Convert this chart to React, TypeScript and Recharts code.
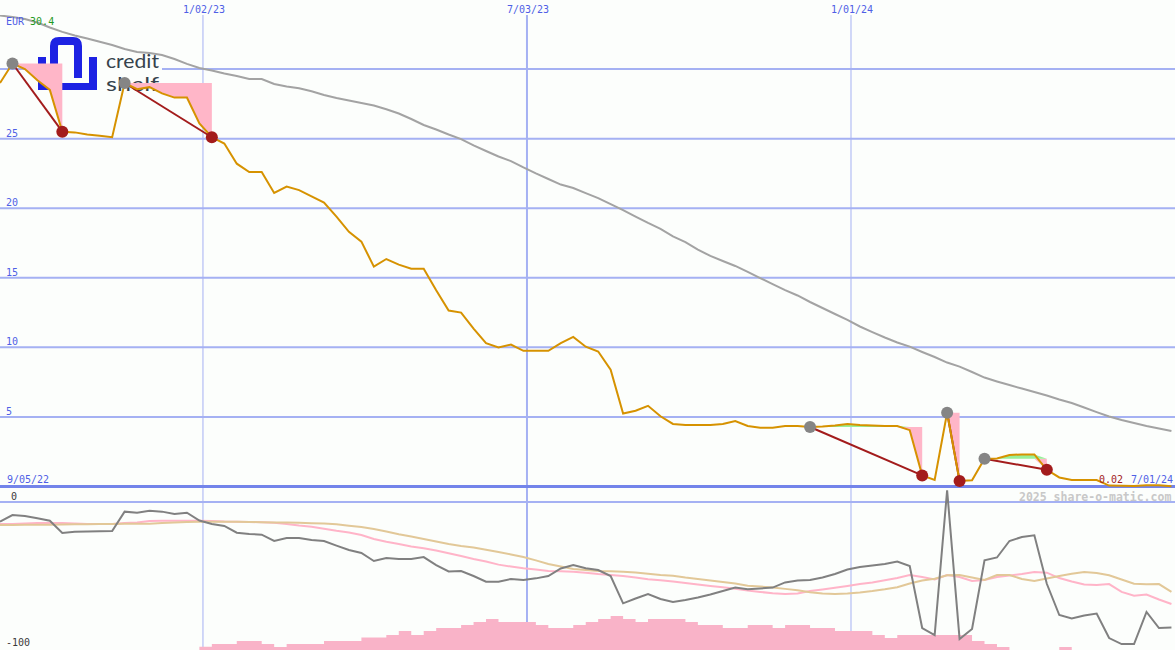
import React from 'react';
import { ComposedChart, Line, Area, XAxis, YAxis, ReferenceLine } from 'recharts';

// ---------- data ----------
const weekDates = [
  '2022-09-10','2022-09-17','2022-09-24','2022-10-01','2022-10-08','2022-10-15','2022-10-22','2022-10-29','2022-11-05','2022-11-12',
  '2022-11-19','2022-11-26','2022-12-03','2022-12-10','2022-12-17','2022-12-24','2022-12-31','2023-01-07','2023-01-14','2023-01-21',
  '2023-01-28','2023-02-04','2023-02-11','2023-02-18','2023-02-25','2023-03-04','2023-03-11','2023-03-18','2023-03-25','2023-04-01',
  '2023-04-08','2023-04-15','2023-04-22','2023-04-29','2023-05-06','2023-05-13','2023-05-20','2023-05-27','2023-06-03','2023-06-10',
  '2023-06-17','2023-06-24','2023-07-01','2023-07-08','2023-07-15','2023-07-22','2023-07-29','2023-08-05','2023-08-12','2023-08-19',
  '2023-08-26','2023-09-02','2023-09-09','2023-09-16','2023-09-23','2023-09-30','2023-10-07','2023-10-14','2023-10-21','2023-10-28',
  '2023-11-04','2023-11-11','2023-11-18','2023-11-25','2023-12-02','2023-12-09','2023-12-16','2023-12-23','2023-12-30','2024-01-06',
  '2024-01-13','2024-01-20','2024-01-27','2024-02-03','2024-02-10','2024-02-17','2024-02-24','2024-03-02','2024-03-09','2024-03-16',
  '2024-03-23','2024-03-30','2024-04-06','2024-04-13','2024-04-20','2024-04-27','2024-05-04','2024-05-11','2024-05-18','2024-05-25',
  '2024-06-01','2024-06-08','2024-06-15','2024-06-22','2024-06-29',
];

const price = [
  29.0, 30.4, 30.0, 29.2, 28.5, 25.5, 25.45, 25.3, 25.2, 25.1,
  29.0, 28.55, 28.7, 28.25, 27.95, 27.95, 26.1, 25.1, 24.65, 23.2,
  22.6, 22.6, 21.1, 21.55, 21.3, 20.85, 20.4, 19.4, 18.3, 17.6,
  15.8, 16.35, 15.95, 15.65, 15.65, 14.1, 12.65, 12.5, 11.35, 10.3,
  10.0, 10.2, 9.75, 9.75, 9.75, 10.3, 10.75, 10.05, 9.7, 8.4,
  5.25, 5.45, 5.8, 5.05, 4.5, 4.42, 4.42, 4.42, 4.49, 4.7,
  4.35, 4.23, 4.23, 4.35, 4.35, 4.28, 4.31, 4.38, 4.5, 4.42,
  4.38, 4.35, 4.35, 4.05, 0.8, 0.47, 5.3, 0.4, 0.45, 2.0,
  2.02, 2.26, 2.31, 2.31, 1.2, 0.65, 0.47, 0.47, 0.47, 0.07,
  0.06, 0.04, 0.1, 0.1, 0.02,
];

const trend = [
  33.85, 33.74, 33.6, 33.35, 32.99, 32.67, 32.41, 32.2, 31.97, 31.73,
  31.44, 31.23, 31.16, 31.01, 30.72, 30.37, 30.08, 29.9, 29.68, 29.5,
  29.29, 29.29, 28.93, 28.75, 28.62, 28.4, 28.14, 27.92, 27.74, 27.56,
  27.38, 27.11, 26.81, 26.41, 25.98, 25.66, 25.3, 24.97, 24.51, 24.11,
  23.72, 23.39, 22.93, 22.5, 22.1, 21.7, 21.45, 21.09, 20.73, 20.3,
  19.87, 19.4, 18.94, 18.51, 17.97, 17.57, 17.03, 16.57, 16.21, 15.85,
  15.42, 14.98, 14.55, 14.12, 13.73, 13.26, 12.83, 12.4, 11.97, 11.5,
  11.1, 10.71, 10.35, 10.05, 9.67, 9.31, 8.91, 8.62, 8.23, 7.83,
  7.55, 7.29, 7.04, 6.79, 6.54, 6.25, 6.0, 5.68, 5.35, 5.03,
  4.78, 4.56, 4.35, 4.17, 3.99,
];

const oscGray = [
  -13.5, -8.9, -9.6, -11.2, -12.8, -21.2, -20.3, -20.2, -20.1, -19.9,
  -6.6, -7.3, -6.0, -6.6, -8.2, -7.3, -12.7, -15.1, -16.4, -21.0,
  -21.9, -22.4, -26.7, -24.7, -24.7, -26.0, -26.7, -29.9, -32.9, -34.9,
  -40.4, -38.4, -39.0, -39.0, -37.7, -43.2, -47.6, -47.3, -50.7, -54.6,
  -54.6, -52.7, -53.4, -52.3, -50.7, -45.5, -43.2, -45.4, -46.6, -50.7,
  -69.4, -66.1, -63.0, -66.4, -68.5, -67.1, -65.4, -63.4, -61.0, -58.6,
  -59.8, -59.2, -58.6, -55.1, -53.8, -53.4, -51.7, -49.3, -46.2, -44.5,
  -43.5, -42.5, -40.8, -43.8, -86.3, -91.1, 8.0, -93.8, -87.0, -40.0,
  -38.0, -26.7, -24.0, -22.8, -56.0, -77.4, -79.7, -77.7, -76.4, -93.2,
  -97.3, -97.3, -75.3, -86.3, -86.0,
];

const oscPink = [
  -15.1, -15.1, -14.7, -14.4, -14.4, -14.4, -14.7, -15.1, -15.1, -15.1,
  -14.4, -14.0, -13.0, -12.8, -12.8, -12.8, -12.8, -13.0, -13.4, -13.5,
  -13.7, -13.9, -14.2, -15.1, -16.1, -16.9, -18.3, -19.7, -20.9, -22.6,
  -25.3, -27.2, -28.8, -30.5, -31.7, -33.2, -35.1, -37.0, -39.0, -40.8,
  -42.9, -44.2, -45.4, -46.2, -47.3, -47.5, -47.7, -48.4, -49.3, -50.0,
  -50.7, -51.7, -52.9, -53.6, -54.5, -55.5, -56.5, -57.5, -58.4, -59.4,
  -60.6, -61.6, -62.5, -63.0, -62.7, -61.0, -59.9, -58.7, -57.5, -56.2,
  -55.1, -53.6, -52.1, -50.0, -51.4, -53.1, -50.0, -51.4, -54.1, -53.4,
  -51.4, -50.3, -49.3, -47.9, -48.4, -52.1, -54.5, -56.5, -56.8, -56.2,
  -61.6, -64.2, -63.4, -66.8, -69.9,
];

const oscTan = [
  -15.8, -15.7, -15.6, -15.5, -15.5, -15.4, -15.3, -15.2, -15.1, -15.0,
  -14.9, -14.9, -14.9, -14.4, -14.0, -13.7, -13.5, -13.5, -13.5, -13.5,
  -13.7, -13.8, -14.0, -14.0, -14.2, -14.5, -14.8, -15.2, -16.2, -17.1,
  -18.5, -20.2, -22.1, -23.6, -25.3, -27.1, -28.8, -30.1, -31.2, -32.7,
  -34.2, -35.9, -37.7, -40.0, -42.5, -44.2, -45.9, -46.6, -47.3, -47.5,
  -47.7, -48.3, -49.2, -50.0, -50.5, -51.7, -52.7, -53.8, -54.8, -55.8,
  -57.3, -57.9, -58.6, -59.5, -60.5, -61.8, -62.7, -63.0, -62.7, -62.0,
  -61.0, -59.8, -58.4, -55.8, -53.8, -52.5, -50.2, -50.0, -51.7, -53.4,
  -50.0, -50.0, -52.7, -54.1, -52.4, -50.7, -49.1, -47.9, -48.6, -50.2,
  -53.1, -56.0, -56.4, -56.2, -61.6,
];

const volume = [
  0, 0, 0, 0, 0, 0, 0, 0, 0, 0,
  0, 0, 0, 0, 0, 0, 1.1, 2, 2, 3,
  3, 2, 1, 2, 2, 2, 3, 3, 3, 4.2,
  4.2, 5, 6.3, 5, 6.3, 7.3, 7.3, 8.3, 9.3, 10.3,
  9.3, 9.3, 9.3, 8.3, 7.3, 7.3, 8.3, 9.3, 10.3, 11.3,
  10.3, 9.3, 10.3, 10.3, 10.3, 9.3, 8.3, 8.3, 7.3, 7.3,
  8.3, 8.3, 7.3, 8.3, 8.3, 7.3, 7.3, 6.3, 6.3, 6.3,
  5, 4, 5, 5, 5, 5, 5, 5, 3, 2,
  1, 0, 0, 0, 0, 1, 0, 0, 0, 0,
  0, 0, 0, 0, 0,
];

// signal pairs: entry week index (grey dot) -> exit week index (red dot)
const entryWeeks = [1, 10, 65, 76, 79];
const exitWeeks = [5, 17, 74, 77, 84];

const tickDates = ['2023-01-02', '2023-07-03', '2024-01-01'];
const tickLabels = ['1/02/23', '7/03/23', '1/01/24'];
const tickWidths = [1, 2, 1];
const axisStartDate = '2022-09-10';
const axisEndDate = '2024-07-01';
const startLabel = '9/05/22';
const endLabel = '7/01/24';
const currency = 'EUR';
const maxLabel = '30.4';
const priceTicks = [5, 10, 15, 20, 25, 30];
const priceLabelTicks = [5, 10, 15, 20, 25];
const oscTicks = [0, -100];
const copyright = '2025 share-o-matic.com';

// ---------- layout / style ----------
const W = 1175;
const UPPER_H = 490;
const LOWER_H = 160;
const TOP_AXIS_H = 15;
const PRICE_DOMAIN = [-0.25, 33.886];
const OSC_DOMAIN = [-101.37, 8.22];
const VOL_DOMAIN = [0, 53.33];
const X_DOMAIN = [Date.parse(axisStartDate), Date.parse(axisEndDate)];
const tickTs = tickDates.map((d) => Date.parse(d));

const BG = '#fcfefc';
const GRID = '#a5b1f3';
const AXIS_DARK = '#7384ea';
const BLUE = '#4f5fe6';
const GREEN_TXT = '#1f9a1f';
const PRICE_C = '#d69200';
const TREND_C = '#a3a3a3';
const ENTRY_C = '#858585';
const EXIT_C = '#a31c1c';
const PINK_FILL = '#ffb6c8';
const GREEN_FILL = '#98f098';
const OSC_GRAY = '#808080';
const OSC_PINK = '#ffb4c8';
const OSC_TAN = '#e2c898';
const VOL_C = '#f9b3c8';
const MONO = '"DejaVu Sans Mono", monospace';

// ---------- derived rows ----------
const rows = weekDates.map((d, i) => {
  const row: any = {
    t: Date.parse(d),
    price: price[i],
    trend: trend[i],
    oscGray: oscGray[i],
    oscPink: oscPink[i],
    oscTan: oscTan[i],
    volume: volume[i],
    entry: entryWeeks.includes(i) ? price[i] : null,
    exit: exitWeeks.includes(i) ? price[i] : null,
    pinkBand: null,
    greenBand: null,
  };
  entryWeeks.forEach((s, j) => {
    const e = exitWeeks[j];
    row['sig' + j] = i === s || i === e ? price[i] : null;
    if (i >= s && i <= e) {
      const level = price[s];
      row.pinkBand = [Math.min(price[i], level), level];
      row.greenBand = [level, Math.max(price[i], level)];
    }
  });
  return row;
});

const margin0 = { top: 0, right: 0, bottom: 0, left: 0 };

const XTick = (props: any) => {
  const idx = tickTs.indexOf(props.payload.value);
  return (
    <text x={props.x + 1} y={13} textAnchor="middle" fill={BLUE} fontSize={10} fontFamily={MONO}>
      {idx >= 0 ? tickLabels[idx] : ''}
    </text>
  );
};

// a reference line whose label sits just above it at the left edge
const hLabel = (text: string, color: string, x: number) => (props: any) => {
  const vb = props.viewBox || {};
  return (
    <text x={x} y={(vb.y || 0) - 2} fill={color} fontSize={10} fontFamily={MONO}>
      {text}
    </text>
  );
};

function UpperGrid() {
  return (
    <ComposedChart width={W} height={UPPER_H} data={rows} margin={margin0}>
      <XAxis dataKey="t" type="number" domain={X_DOMAIN} allowDataOverflow orientation="top" height={TOP_AXIS_H}
        ticks={tickTs} interval={0} tickLine={false} axisLine={false} tick={XTick} />
      <YAxis type="number" domain={PRICE_DOMAIN} allowDataOverflow hide />
      {priceTicks.map((v) => (
        <ReferenceLine key={'h' + v} y={v} stroke={GRID} strokeWidth={2}
          label={priceLabelTicks.includes(v) ? hLabel(String(v), BLUE, 6) : undefined} />
      ))}
      {tickTs.map((t, i) => (
        <ReferenceLine key={t} x={t} stroke={GRID} strokeWidth={tickWidths[i]} />
      ))}
      <ReferenceLine y={0} stroke={AXIS_DARK} strokeWidth={3} />
    </ComposedChart>
  );
}

function LowerGrid() {
  return (
    <ComposedChart width={W} height={LOWER_H} data={rows} margin={margin0}>
      <XAxis dataKey="t" type="number" domain={X_DOMAIN} allowDataOverflow hide />
      <YAxis type="number" domain={OSC_DOMAIN} allowDataOverflow hide />
      {tickTs.map((t, i) => (
        <ReferenceLine key={t} x={t} stroke={GRID} strokeWidth={tickWidths[i]} />
      ))}
      <ReferenceLine y={oscTicks[0]} stroke={GRID} strokeWidth={2}
        label={hLabel(String(oscTicks[0]), '#3a3a3a', 11)} />
      <ReferenceLine y={oscTicks[1]} stroke="none" ifOverflow="visible"
        label={hLabel(String(oscTicks[1]), '#3a3a3a', 6)} />
    </ComposedChart>
  );
}

function UpperSeries() {
  return (
    <ComposedChart width={W} height={UPPER_H} data={rows} margin={margin0}>
      <XAxis dataKey="t" type="number" domain={X_DOMAIN} allowDataOverflow orientation="top" height={TOP_AXIS_H}
        tick={false} tickLine={false} axisLine={false} />
      <YAxis type="number" domain={PRICE_DOMAIN} allowDataOverflow hide />
      <Area dataKey="pinkBand" type="linear" stroke="none" fill={PINK_FILL} fillOpacity={1}
        isAnimationActive={false} dot={false} activeDot={false} />
      <Area dataKey="greenBand" type="linear" stroke="none" fill={GREEN_FILL} fillOpacity={1}
        isAnimationActive={false} dot={false} activeDot={false} />
      <Line dataKey="trend" type="linear" stroke={TREND_C} strokeWidth={2} dot={false} activeDot={false}
        isAnimationActive={false} />
      <Line dataKey="entry" stroke="none" dot={{ r: 6, fill: ENTRY_C, stroke: 'none' }} activeDot={false}
        isAnimationActive={false} />
      <Line dataKey="exit" stroke="none" dot={{ r: 6, fill: EXIT_C, stroke: 'none' }} activeDot={false}
        isAnimationActive={false} />
      {entryWeeks.map((s, j) => (
        <Line key={'sig' + j} dataKey={'sig' + j} type="linear" stroke={EXIT_C} strokeWidth={2} dot={false}
          activeDot={false} connectNulls isAnimationActive={false} />
      ))}
      <Line dataKey="price" type="linear" stroke={PRICE_C} strokeWidth={2} dot={false} activeDot={false}
        isAnimationActive={false} />
    </ComposedChart>
  );
}

function LowerSeries() {
  return (
    <ComposedChart width={W} height={LOWER_H} data={rows} margin={margin0}>
      <XAxis dataKey="t" type="number" domain={X_DOMAIN} allowDataOverflow hide />
      <YAxis yAxisId="osc" type="number" domain={OSC_DOMAIN} allowDataOverflow hide />
      <YAxis yAxisId="vol" type="number" domain={VOL_DOMAIN} allowDataOverflow hide />
      <Area yAxisId="vol" dataKey="volume" type="stepAfter" stroke="none" fill={VOL_C} fillOpacity={1}
        isAnimationActive={false} dot={false} activeDot={false} />
      <Line yAxisId="osc" dataKey="oscPink" type="linear" stroke={OSC_PINK} strokeWidth={2} dot={false}
        activeDot={false} isAnimationActive={false} />
      <Line yAxisId="osc" dataKey="oscTan" type="linear" stroke={OSC_TAN} strokeWidth={2} dot={false}
        activeDot={false} isAnimationActive={false} />
      <Line yAxisId="osc" dataKey="oscGray" type="linear" stroke={OSC_GRAY} strokeWidth={2} dot={false}
        activeDot={false} isAnimationActive={false} />
    </ComposedChart>
  );
}

function Logo() {
  const blue = '#1d22e3';
  return (
    <svg width={W} height={UPPER_H} style={{ position: 'absolute', left: 0, top: 0 }}>
      <rect x={32} y={35} width={130} height={57} fill={BG} />
      <rect x={38} y={57} width={8} height={33} fill={blue} />
      <rect x={38} y={83} width={59} height={7} fill={blue} />
      <rect x={89} y={57} width={8} height={33} fill={blue} />
      <path d="M54 76 V46 Q54 41 59 41 H73 Q78 41 78 46 V78" fill="none" stroke={blue} strokeWidth={8} />
      <text x={106} y={68} fontFamily="Lato, sans-serif" fontSize={19} fill="#36434c"
        textLength={53} lengthAdjust="spacingAndGlyphs">credit</text>
      <text x={106} y={91} fontFamily="Lato, sans-serif" fontSize={19} fill="#36434c"
        textLength={53} lengthAdjust="spacingAndGlyphs">shelf</text>
    </svg>
  );
}

function Labels() {
  return (
    <svg width={W} height={650} style={{ position: 'absolute', left: 0, top: 0 }}>
      <text x={6} y={25} fontSize={10} fontFamily={MONO} fill={BLUE}>
        {currency}
        <tspan fill={GREEN_TXT}>{' ' + maxLabel}</tspan>
      </text>
      <text x={7} y={483} fontSize={10} fontFamily={MONO} fill={BLUE}>{startLabel}</text>
      <text x={1099} y={483} fontSize={10} fontFamily={MONO} fill={EXIT_C}>{price[price.length - 1].toFixed(2)}</text>
      <text x={1131} y={483} fontSize={10} fontFamily={MONO} fill={BLUE}>{endLabel}</text>
      <text x={1019} y={501} fontSize={11.5} fontWeight="bold" fontFamily={MONO} fill="#c8c8c8">{copyright}</text>
    </svg>
  );
}

export default function App() {
  return (
    <div style={{ position: 'absolute', left: 0, top: 0, width: W, height: 650, background: BG, overflow: 'hidden' }}>
      <div style={{ position: 'absolute', left: 0, top: 0 }}><UpperGrid /></div>
      <div style={{ position: 'absolute', left: 0, top: UPPER_H }}><LowerGrid /></div>
      <Logo />
      <div style={{ position: 'absolute', left: 0, top: 0 }}><UpperSeries /></div>
      <div style={{ position: 'absolute', left: 0, top: UPPER_H }}><LowerSeries /></div>
      <Labels />
    </div>
  );
}
